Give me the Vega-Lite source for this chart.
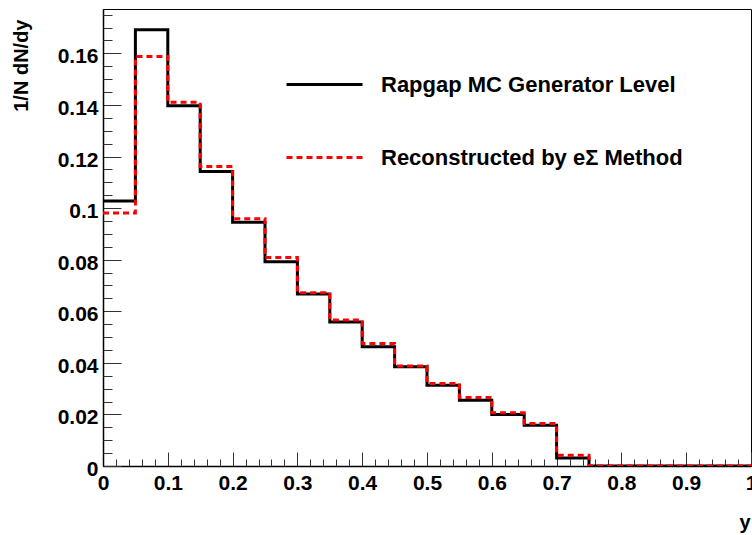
{
  "$schema": "https://vega.github.io/schema/vega-lite/v6.json",
  "autosize": {"type": "none"},
  "width": 648,
  "height": 457,
  "padding": {"left": 103, "top": 9, "right": 1, "bottom": 69},
  "background": "white",
  "config": {
    "view": {"stroke": "black", "strokeWidth": 1},
    "font": "Liberation Sans",
    "axis": {"labelFont": "Liberation Sans", "titleFont": "Liberation Sans", "labelFontWeight": "bold", "titleFontWeight": "bold", "labelColor": "black", "titleColor": "black", "grid": false, "domainColor": "black", "tickColor": "#333333"}
  },
  "data": {"values": [
    {"x": 0.00, "v": 0.1028, "s": "Rapgap MC Generator Level"},
    {"x": 0.05, "v": 0.1692, "s": "Rapgap MC Generator Level"},
    {"x": 0.10, "v": 0.1397, "s": "Rapgap MC Generator Level"},
    {"x": 0.15, "v": 0.1142, "s": "Rapgap MC Generator Level"},
    {"x": 0.20, "v": 0.0945, "s": "Rapgap MC Generator Level"},
    {"x": 0.25, "v": 0.0792, "s": "Rapgap MC Generator Level"},
    {"x": 0.30, "v": 0.0667, "s": "Rapgap MC Generator Level"},
    {"x": 0.35, "v": 0.0558, "s": "Rapgap MC Generator Level"},
    {"x": 0.40, "v": 0.0462, "s": "Rapgap MC Generator Level"},
    {"x": 0.45, "v": 0.0385, "s": "Rapgap MC Generator Level"},
    {"x": 0.50, "v": 0.0313, "s": "Rapgap MC Generator Level"},
    {"x": 0.55, "v": 0.0255, "s": "Rapgap MC Generator Level"},
    {"x": 0.60, "v": 0.0200, "s": "Rapgap MC Generator Level"},
    {"x": 0.65, "v": 0.0158, "s": "Rapgap MC Generator Level"},
    {"x": 0.70, "v": 0.0031, "s": "Rapgap MC Generator Level"},
    {"x": 0.75, "v": 0.0, "s": "Rapgap MC Generator Level"},
    {"x": 0.80, "v": 0.0, "s": "Rapgap MC Generator Level"},
    {"x": 0.85, "v": 0.0, "s": "Rapgap MC Generator Level"},
    {"x": 0.90, "v": 0.0, "s": "Rapgap MC Generator Level"},
    {"x": 0.95, "v": 0.0, "s": "Rapgap MC Generator Level"},
    {"x": 1.00, "v": 0.0, "s": "Rapgap MC Generator Level"},
    {"x": 0.00, "v": 0.0981, "s": "Reconstructed by eΣ Method"},
    {"x": 0.05, "v": 0.1588, "s": "Reconstructed by eΣ Method"},
    {"x": 0.10, "v": 0.1410, "s": "Reconstructed by eΣ Method"},
    {"x": 0.15, "v": 0.1161, "s": "Reconstructed by eΣ Method"},
    {"x": 0.20, "v": 0.0959, "s": "Reconstructed by eΣ Method"},
    {"x": 0.25, "v": 0.0808, "s": "Reconstructed by eΣ Method"},
    {"x": 0.30, "v": 0.0672, "s": "Reconstructed by eΣ Method"},
    {"x": 0.35, "v": 0.0566, "s": "Reconstructed by eΣ Method"},
    {"x": 0.40, "v": 0.0475, "s": "Reconstructed by eΣ Method"},
    {"x": 0.45, "v": 0.0388, "s": "Reconstructed by eΣ Method"},
    {"x": 0.50, "v": 0.0320, "s": "Reconstructed by eΣ Method"},
    {"x": 0.55, "v": 0.0266, "s": "Reconstructed by eΣ Method"},
    {"x": 0.60, "v": 0.0206, "s": "Reconstructed by eΣ Method"},
    {"x": 0.65, "v": 0.0165, "s": "Reconstructed by eΣ Method"},
    {"x": 0.70, "v": 0.0042, "s": "Reconstructed by eΣ Method"},
    {"x": 0.75, "v": 0.0, "s": "Reconstructed by eΣ Method"},
    {"x": 0.80, "v": 0.0, "s": "Reconstructed by eΣ Method"},
    {"x": 0.85, "v": 0.0, "s": "Reconstructed by eΣ Method"},
    {"x": 0.90, "v": 0.0, "s": "Reconstructed by eΣ Method"},
    {"x": 0.95, "v": 0.0, "s": "Reconstructed by eΣ Method"},
    {"x": 1.00, "v": 0.0, "s": "Reconstructed by eΣ Method"}
  ]},
  "layer": [
    {
      "transform": [{"filter": "datum.s == 'Rapgap MC Generator Level'"}],
      "mark": {"type": "line", "interpolate": "step-after", "strokeWidth": 3, "clip": true},
      "encoding": {
        "x": {"field": "x", "type": "quantitative", "scale": {"domain": [0, 1], "nice": false},
          "axis": {"values": [0, 0.1, 0.2, 0.3, 0.4, 0.5, 0.6, 0.7, 0.8, 0.9, 1], "format": ".1~f", "tickSize": -14, "labelPadding": 20, "labelFontSize": 21, "labelFlush": false, "labelOverlap": false, "domainWidth": 1.5,
            "title": "y", "titleFontSize": 20, "titleAnchor": "end", "titleAlign": "right", "titleBaseline": "alphabetic", "titleX": 647, "titleY": 62}},
        "y": {"field": "v", "type": "quantitative", "scale": {"domain": [0, 0.1772], "nice": false, "zero": true},
          "axis": {"values": [0, 0.02, 0.04, 0.06, 0.08, 0.1, 0.12, 0.14, 0.16], "format": ".2~f", "tickSize": -18, "labelPadding": 23, "labelOffset": 3.5, "labelFontSize": 21, "labelOverlap": false, "domainWidth": 1.5,
            "title": "1/N dN/dy", "titleFontSize": 20, "titleAngle": -90, "titleAlign": "right", "titleBaseline": "middle", "titleX": -82, "titleY": 10}},
        "color": {"field": "s", "type": "nominal", "scale": {"domain": ["Rapgap MC Generator Level", "Reconstructed by eΣ Method"], "range": ["black", "#ff0000"]},
          "legend": {"title": null, "orient": "none", "legendX": 182, "legendY": 36, "symbolType": "stroke", "symbolSize": 5776, "symbolStrokeWidth": 3, "labelFontSize": 22, "labelFont": "Liberation Sans", "labelFontWeight": "bold", "labelColor": "black", "labelOffset": 17, "rowPadding": 22, "labelLimit": 400}},
        "strokeDash": {"field": "s", "type": "nominal", "scale": {"domain": ["Rapgap MC Generator Level", "Reconstructed by eΣ Method"], "range": [[1, 0], [6, 4]]},
          "legend": {"title": null, "orient": "none", "legendX": 182, "legendY": 36, "symbolType": "stroke", "symbolSize": 5776, "symbolStrokeWidth": 3, "labelFontSize": 22, "labelFont": "Liberation Sans", "labelFontWeight": "bold", "labelColor": "black", "labelOffset": 17, "rowPadding": 22, "labelLimit": 400}}
      }
    },
    {
      "transform": [{"filter": "datum.s == 'Reconstructed by eΣ Method'"}],
      "mark": {"type": "line", "interpolate": "step-after", "strokeWidth": 3, "clip": true},
      "encoding": {
        "x": {"field": "x", "type": "quantitative",
          "axis": {"orient": "bottom", "values": [0.02, 0.04, 0.06, 0.08, 0.12, 0.14, 0.16, 0.18, 0.22, 0.24, 0.26, 0.28, 0.32, 0.34, 0.36, 0.38, 0.42, 0.44, 0.46, 0.48, 0.52, 0.54, 0.56, 0.58, 0.62, 0.64, 0.66, 0.68, 0.72, 0.74, 0.76, 0.78, 0.82, 0.84, 0.86, 0.88, 0.92, 0.94, 0.96, 0.98], "tickSize": -7, "labels": false, "domain": false, "title": null}},
        "y": {"field": "v", "type": "quantitative",
          "axis": {"orient": "left", "values": [0.005, 0.01, 0.015, 0.025, 0.03, 0.035, 0.045, 0.05, 0.055, 0.065, 0.07, 0.075, 0.085, 0.09, 0.095, 0.105, 0.11, 0.115, 0.125, 0.13, 0.135, 0.145, 0.15, 0.155, 0.165, 0.17, 0.175], "tickSize": -9, "labels": false, "domain": false, "title": null}},
        "color": {"field": "s", "type": "nominal"},
        "strokeDash": {"field": "s", "type": "nominal"}
      }
    }
  ],
  "resolve": {"axis": {"x": "independent", "y": "independent"}}
}
